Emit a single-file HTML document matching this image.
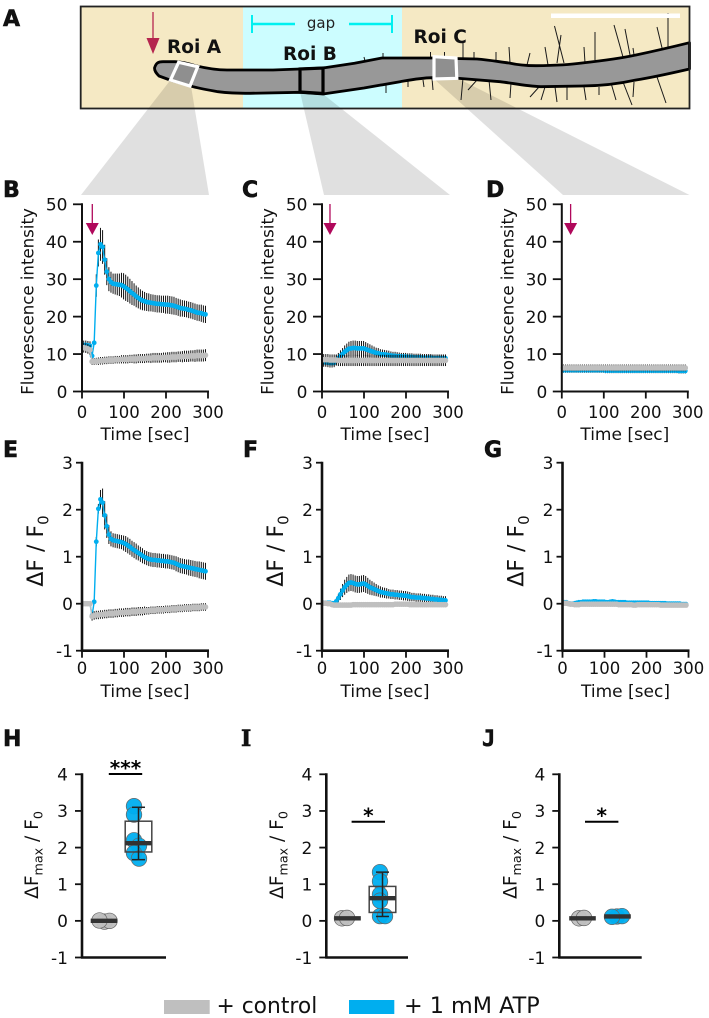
<!DOCTYPE html>
<html>
<head>
<meta charset="utf-8">
<title>Fluorescence response figure</title>
<style>
html,body{margin:0;padding:0;background:#fff;}
svg{display:block;font-family:"DejaVu Sans","Liberation Sans",sans-serif;}
</style>
</head>
<body>
<svg id="figure" xmlns="http://www.w3.org/2000/svg" width="709" height="1018" viewBox="0 0 709 1018">
  <g>
    <rect x="81" y="7" width="162" height="101" fill="#f5e9c4"/>
    <rect x="243" y="7" width="159" height="101" fill="#ccfdff"/>
    <rect x="402" y="7" width="287" height="101" fill="#f5e9c4"/>
    <polygon points="170.5,80 191,86 209,195 81,195" fill="#000" fill-opacity="0.12"/>
    <polygon points="300,92 323,94 450,195 324,195" fill="#000" fill-opacity="0.12"/>
    <polygon points="434,79 457,78 689.5,195 563,195" fill="#000" fill-opacity="0.12"/>
    <g stroke="#1a1a1a" stroke-width="1" fill="none">
      <path d="M561 35L557 63M554.5 26L564 63M584 47L585 63M595 32L595 60M614 25L623 57M625 29L630 55M633 48L634 55M657 27L663 52M668 13L668 47M463 43L463 58M474 52L474 58M496 52L496 62M509 47L510 63M530 53L527 65M545 47L548 65M430.5 52L430.5 58M444.5 52L444.5 57M383 53L383 58M364 57L365 61"/>
      <path d="M461 100L463 78M468 90L477 80M489 80L491 100M511 83L510 98M530 97L539 87M541 100L545 87M555 87L557 102M567 87L567 100M584 87L586 100M599 87L599 95M611 83L616 100M623 82L632 105M634 82L633 97M657 77L666 103M408 80L408 87M423 80L424 87M432 78L433 90M386 85L386 93"/>
    </g>
    <path d="M154.5 68C156 63 158 61.7 163 61.7L175 61.7C183 62 190 64 195.5 65.7C205 68 215 70 227 70L273 70L300 69L323 68L354.5 63.3L382 58L432 58L477 59C490 60 500 62 509 63C518 65 527 65.7 536 65.7C552 65.5 568 65 582 63C600 61 618 59 636 55C655 51 672 47 689.5 42.7L689.5 69C672 73 655 77 636 80C618 84 600 86 582 86L541 86.7C525 86 512 83 500 81.7L454.5 78L432 77.7C420 78 410 80 400 81.7L364 88L323 94L300 92.3L250 93.3C238 93.3 228 93 218 91.7C208 90 200 88.5 193 86.7L170 80L159 76C156 73 154.5 71 154.5 68Z" fill="#989898" stroke="#000" stroke-width="2.8" stroke-linejoin="round"/>
    <polygon points="178.6,62.3 197.7,66.7 190,86 170.5,80" fill="#8f8f8f" stroke="#fff" stroke-width="3.2"/>
    <polygon points="300,69 323,68 323,93.5 300,92" fill="#989898" stroke="#000" stroke-width="3.2"/>
    <polygon points="434,56.7 456,58 456.8,78.3 434,79" fill="#8f8f8f" stroke="#fff" stroke-width="3.2"/>
    <rect x="551" y="13.5" width="129" height="4.5" fill="#fff"/>
    <g stroke="#00f0f0" stroke-width="2" fill="none">
      <path d="M252 24L295 24M349 24L392 24" stroke-width="2.6"/>
      <path d="M252 15L252 33M392 15L392 33"/>
    </g>
    <text x="321" y="28" font-size="15" text-anchor="middle" fill="#222">gap</text>
    <path d="M153 12L153 40" stroke="#b5264f" stroke-width="1.3" fill="none"/>
    <polygon points="146.5,38 159.5,38 153,54" fill="#b5264f"/>
    <text x="167" y="53" font-size="18.5" font-weight="bold" fill="#111">Roi A</text>
    <text x="283" y="60" font-size="18.5" font-weight="bold" fill="#111">Roi B</text>
    <text x="413.5" y="43" font-size="18.5" font-weight="bold" fill="#111">Roi C</text>
    <rect x="80.7" y="6.5" width="608.8" height="102" fill="none" stroke="#222" stroke-width="1.8"/>
  </g>
  <g font-size="22" font-weight="bold" fill="#111" stroke="#111" stroke-width="0.6">
    <text x="3" y="26">A</text>
    <text x="3" y="197">B</text>
    <text x="242" y="197">C</text>
    <text x="486" y="197">D</text>
    <text x="3" y="457">E</text>
    <text x="243" y="457">F</text>
    <text x="484" y="457">G</text>
    <text x="3" y="746">H</text>
    <text x="241" y="746" font-family="'DejaVu Serif','Liberation Serif',serif">I</text>
    <text x="482" y="746" font-family="'DejaVu Sans Mono','Liberation Mono',monospace">J</text>
  </g>
  <g>
    <rect x="164" y="1000" width="45.7" height="14" fill="#bfbfbf"/>
    <text x="216.5" y="1013" font-size="21.8" fill="#111">+ control</text>
    <rect x="349" y="1000" width="45.3" height="14" fill="#00aeef"/>
    <text x="404" y="1013" font-size="22.3" fill="#111">+ 1 mM ATP</text>
  </g>
  <g id="charts"></g>
</svg>
<script>
// ---------- time-course data ----------
const timePoints = [4,9,14,19,24,29,34,39,44,49,54,59,64,69,74,79,84,89,94,99,104,109,114,119,124,129,134,139,144,149,154,159,164,169,174,179,184,189,194,199,204,209,214,219,224,229,234,239,244,249,254,259,264,269,274,279,284,289,294];

const atpMeanB = [12.4,12.4,12.3,12.2,9.5,13,28.3,37,39.3,38.6,35.2,32,30,29.2,28.8,28.7,28.6,28.5,28.4,28.1,27.7,27.3,26.8,26.3,25.9,25.4,25,24.6,24.3,24.1,23.9,23.8,23.7,23.6,23.5,23.4,23.4,23.3,23.3,23.2,23.2,23.1,23,22.9,22.7,22.5,22.3,22.2,22.1,22,21.8,21.7,21.5,21.3,21.1,21,20.9,20.7,20.6];
const atpErrB = [1.2,1.2,1.2,1.2,0.8,0.5,3,3.6,4.4,4.5,4,3.6,3.2,2.8,2.7,2.8,2.9,3,3.3,3.5,3.5,3.4,3.3,3.2,3,2.9,2.8,2.7,2.6,2.5,2.4,2.4,2.3,2.3,2.3,2.3,2.3,2.3,2.3,2.4,2.4,2.4,2.4,2.4,2.3,2.3,2.3,2.2,2.2,2.2,2.2,2.2,2.2,2.2,2.2,2.2,2.3,2.3,2.3];
const ctrlMeanB = [11.7,11.6,11.4,11.1,8,8,8.1,8.1,8.2,8.2,8.3,8.3,8.4,8.4,8.4,8.5,8.5,8.5,8.6,8.6,8.6,8.6,8.7,8.7,8.7,8.7,8.8,8.8,8.8,8.8,8.9,8.9,8.9,9,9,9,9,9,9.1,9.1,9.1,9.1,9.2,9.2,9.2,9.3,9.3,9.3,9.4,9.4,9.4,9.5,9.5,9.5,9.6,9.6,9.6,9.6,9.7];
const ctrlErrB = [1.3,1.3,1.3,1.3,0.9,0.9,0.9,1,1,1,1,1,1,1,1,1,1,1,1.1,1.1,1.1,1.1,1.1,1.1,1.2,1.2,1.2,1.2,1.2,1.2,1.2,1.2,1.3,1.3,1.3,1.3,1.3,1.3,1.3,1.3,1.4,1.4,1.4,1.4,1.4,1.4,1.4,1.5,1.5,1.5,1.5,1.5,1.5,1.6,1.6,1.6,1.6,1.6,1.6];

const atpMeanC = [7.8,7.8,7.7,7.6,7.6,7.7,8.4,8.9,9.5,10,10.6,11,11.4,11.5,11.6,11.6,11.5,11.5,11.5,11.5,11.3,11.1,10.9,10.7,10.5,10.3,10.2,10,9.9,9.9,9.8,9.7,9.6,9.5,9.5,9.4,9.4,9.3,9.3,9.3,9.2,9.2,9.2,9.1,9.1,9.1,9.1,9,9,9,9,9,8.9,8.9,8.9,8.9,8.9,8.9,8.9];
const atpErrC = [1.2,1.2,1.2,1.2,1.2,1.2,1.3,1.4,1.5,1.6,1.7,1.8,1.9,2,2,2,2,2,2,2,1.9,1.8,1.7,1.6,1.5,1.4,1.4,1.3,1.3,1.2,1.2,1.2,1.1,1.1,1.1,1.1,1,1,1,1,1,1,1,1,1,1,1,1,1,1,1,1,1,1,1,1,1,1,1];
const ctrlMeanC = [8.5,8.5,8.5,8.4,8.4,8.4,8.4,8.3,8.3,8.3,8.3,8.3,8.3,8.3,8.3,8.3,8.3,8.3,8.3,8.3,8.3,8.3,8.3,8.3,8.3,8.3,8.3,8.3,8.3,8.3,8.3,8.3,8.3,8.3,8.3,8.3,8.3,8.3,8.3,8.3,8.3,8.3,8.3,8.3,8.3,8.3,8.3,8.3,8.3,8.3,8.3,8.3,8.3,8.3,8.3,8.3,8.3,8.3,8.3];
const ctrlErrC = [1.5,1.5,1.5,1.5,1.5,1.5,1.5,1.5,1.5,1.5,1.5,1.5,1.5,1.5,1.5,1.5,1.5,1.5,1.5,1.5,1.5,1.5,1.5,1.5,1.5,1.5,1.5,1.5,1.5,1.5,1.5,1.5,1.5,1.5,1.5,1.5,1.5,1.5,1.5,1.5,1.5,1.5,1.5,1.5,1.5,1.5,1.5,1.5,1.5,1.5,1.5,1.5,1.5,1.5,1.5,1.5,1.5,1.5,1.5];

const atpMeanD = [5.7,5.7,5.7,5.7,5.7,5.7,5.7,5.7,5.7,5.7,5.7,5.7,5.7,5.7,5.7,5.7,5.7,5.7,5.7,5.7,5.6,5.6,5.6,5.6,5.6,5.6,5.6,5.6,5.6,5.6,5.6,5.6,5.6,5.6,5.6,5.6,5.6,5.6,5.6,5.6,5.6,5.6,5.6,5.6,5.6,5.6,5.6,5.6,5.6,5.6,5.6,5.6,5.6,5.6,5.6,5.5,5.5,5.5,5.5];
const atpErrD = [0.7,0.7,0.7,0.7,0.7,0.7,0.7,0.7,0.7,0.7,0.7,0.7,0.7,0.7,0.7,0.7,0.7,0.7,0.7,0.7,0.7,0.7,0.7,0.7,0.7,0.7,0.7,0.7,0.7,0.7,0.7,0.7,0.7,0.7,0.7,0.7,0.7,0.7,0.7,0.7,0.7,0.7,0.7,0.7,0.7,0.7,0.7,0.7,0.7,0.7,0.7,0.7,0.7,0.7,0.7,0.7,0.7,0.7,0.7];
const ctrlMeanD = [6.3,6.3,6.3,6.3,6.3,6.3,6.3,6.3,6.3,6.3,6.3,6.3,6.3,6.3,6.3,6.3,6.3,6.3,6.3,6.3,6.3,6.3,6.3,6.3,6.3,6.3,6.3,6.3,6.3,6.3,6.3,6.3,6.3,6.3,6.3,6.3,6.3,6.3,6.3,6.3,6.3,6.3,6.3,6.3,6.3,6.3,6.3,6.3,6.3,6.3,6.3,6.3,6.3,6.3,6.3,6.3,6.3,6.3,6.3];
const ctrlErrD = [0.9,0.9,0.9,0.9,0.9,0.9,0.9,0.9,0.9,0.9,0.9,0.9,0.9,0.9,0.9,0.9,0.9,0.9,0.9,0.9,0.9,0.9,0.9,0.9,0.9,0.9,0.9,0.9,0.9,0.9,0.9,0.9,0.9,0.9,0.9,0.9,0.9,0.9,0.9,0.9,0.9,0.9,0.9,0.9,0.9,0.9,0.9,0.9,0.9,0.9,0.9,0.9,0.9,0.9,0.9,0.9,0.9,0.9,0.9];

const atpMeanE = [0,0,0,0,-0.25,0.04,1.32,2.02,2.22,2.15,1.88,1.65,1.47,1.38,1.35,1.34,1.33,1.32,1.31,1.29,1.27,1.24,1.21,1.17,1.14,1.11,1.08,1.05,1.02,0.99,0.97,0.95,0.94,0.93,0.93,0.92,0.92,0.91,0.91,0.9,0.9,0.89,0.88,0.87,0.85,0.83,0.81,0.8,0.79,0.78,0.77,0.76,0.75,0.74,0.73,0.72,0.71,0.7,0.69];
const atpErrE = [0.03,0.03,0.03,0.03,0.03,0.05,0.1,0.1,0.2,0.3,0.3,0.25,0.2,0.16,0.15,0.15,0.15,0.15,0.15,0.16,0.17,0.17,0.17,0.17,0.17,0.17,0.16,0.16,0.16,0.15,0.15,0.15,0.15,0.15,0.15,0.15,0.15,0.15,0.15,0.15,0.15,0.15,0.15,0.15,0.16,0.16,0.16,0.16,0.16,0.16,0.17,0.17,0.17,0.17,0.17,0.18,0.18,0.18,0.18];
const ctrlMeanE = [0,0,0,0,-0.27,-0.25,-0.24,-0.24,-0.23,-0.23,-0.22,-0.22,-0.21,-0.21,-0.21,-0.2,-0.2,-0.19,-0.19,-0.19,-0.18,-0.18,-0.18,-0.17,-0.17,-0.17,-0.16,-0.16,-0.16,-0.15,-0.15,-0.15,-0.14,-0.14,-0.14,-0.13,-0.13,-0.13,-0.13,-0.12,-0.12,-0.12,-0.11,-0.11,-0.11,-0.1,-0.1,-0.1,-0.09,-0.09,-0.09,-0.09,-0.08,-0.08,-0.08,-0.08,-0.07,-0.07,-0.07];
const ctrlErrE = [0.02,0.02,0.02,0.02,0.09,0.09,0.09,0.09,0.09,0.09,0.09,0.09,0.09,0.09,0.09,0.09,0.09,0.09,0.09,0.09,0.09,0.09,0.09,0.09,0.09,0.09,0.09,0.09,0.09,0.09,0.08,0.08,0.08,0.08,0.08,0.08,0.08,0.08,0.08,0.08,0.08,0.08,0.08,0.08,0.08,0.08,0.08,0.08,0.08,0.08,0.08,0.08,0.08,0.08,0.08,0.08,0.08,0.08,0.08];

const atpMeanF = [0.02,0.02,0.02,0.02,0.01,0.01,0.05,0.12,0.2,0.28,0.35,0.4,0.44,0.45,0.44,0.42,0.41,0.41,0.42,0.43,0.41,0.38,0.35,0.33,0.31,0.29,0.27,0.25,0.24,0.23,0.22,0.21,0.2,0.2,0.19,0.19,0.18,0.18,0.17,0.17,0.16,0.15,0.14,0.14,0.13,0.13,0.13,0.12,0.12,0.11,0.11,0.1,0.1,0.09,0.09,0.08,0.08,0.07,0.07];
const atpErrF = [0.02,0.02,0.02,0.02,0.02,0.03,0.06,0.09,0.12,0.14,0.16,0.17,0.18,0.18,0.18,0.18,0.18,0.18,0.18,0.18,0.18,0.17,0.16,0.15,0.14,0.13,0.12,0.12,0.11,0.11,0.11,0.1,0.1,0.1,0.1,0.1,0.1,0.1,0.1,0.1,0.1,0.1,0.09,0.09,0.09,0.09,0.09,0.09,0.09,0.09,0.09,0.09,0.09,0.09,0.09,0.09,0.09,0.09,0.09];
const ctrlMeanF = [0.01,0.01,0,0,-0.02,-0.03,-0.03,-0.03,-0.03,-0.03,-0.03,-0.03,-0.03,-0.03,-0.02,-0.02,-0.02,-0.02,-0.02,-0.02,-0.02,-0.02,-0.02,-0.02,-0.02,-0.02,-0.02,-0.02,-0.02,-0.02,-0.02,-0.02,-0.02,-0.02,-0.01,-0.01,-0.01,-0.01,-0.01,-0.01,-0.01,-0.02,-0.02,-0.02,-0.02,-0.02,-0.02,-0.02,-0.02,-0.02,-0.02,-0.02,-0.02,-0.02,-0.02,-0.02,-0.02,-0.02,-0.02];
const ctrlErrF = [0.02,0.02,0.02,0.02,0.02,0.02,0.02,0.02,0.02,0.02,0.02,0.02,0.02,0.02,0.02,0.02,0.02,0.02,0.02,0.02,0.02,0.02,0.02,0.02,0.02,0.02,0.02,0.02,0.02,0.02,0.02,0.02,0.02,0.02,0.02,0.02,0.02,0.02,0.02,0.02,0.02,0.02,0.02,0.02,0.02,0.02,0.02,0.02,0.02,0.02,0.02,0.02,0.02,0.02,0.02,0.02,0.02,0.02,0.02];

const atpMeanG = [0.03,0.03,0.01,0,0,0.01,0.02,0.03,0.03,0.04,0.04,0.04,0.04,0.04,0.05,0.05,0.04,0.04,0.04,0.04,0.03,0.03,0.04,0.05,0.04,0.03,0.03,0.03,0.03,0.03,0.02,0.02,0.02,0.02,0.02,0.02,0.02,0.02,0.02,0.02,0.02,0.01,0.01,0.01,0.01,0.01,0.01,0.01,0.01,0,0,0,0,0,0,0,-0.01,-0.01,-0.01];
const atpErrG = [0.01,0.01,0.01,0.01,0.01,0.01,0.01,0.01,0.01,0.01,0.01,0.01,0.01,0.01,0.01,0.01,0.01,0.01,0.01,0.01,0.01,0.01,0.01,0.01,0.01,0.01,0.01,0.01,0.01,0.01,0.01,0.01,0.01,0.01,0.01,0.01,0.01,0.01,0.01,0.01,0.01,0.01,0.01,0.01,0.01,0.01,0.01,0.01,0.01,0.01,0.01,0.01,0.01,0.01,0.01,0.01,0.01,0.01,0.01];
const ctrlMeanG = [0.01,0.01,0,-0.01,-0.01,-0.02,-0.02,-0.02,-0.01,-0.01,-0.01,-0.01,-0.01,-0.01,-0.01,-0.01,-0.01,-0.01,-0.01,-0.01,-0.01,-0.01,-0.01,-0.01,-0.01,-0.01,-0.02,-0.02,-0.02,-0.02,-0.02,-0.02,-0.02,-0.03,-0.03,-0.02,-0.02,-0.02,-0.02,-0.02,-0.02,-0.02,-0.02,-0.02,-0.02,-0.02,-0.03,-0.03,-0.03,-0.03,-0.03,-0.03,-0.03,-0.03,-0.03,-0.03,-0.03,-0.03,-0.03];
const ctrlErrG = [0.01,0.01,0.01,0.01,0.01,0.01,0.01,0.01,0.01,0.01,0.01,0.01,0.01,0.01,0.01,0.01,0.01,0.01,0.01,0.01,0.01,0.01,0.01,0.01,0.01,0.01,0.01,0.01,0.01,0.01,0.01,0.01,0.01,0.01,0.01,0.01,0.01,0.01,0.01,0.01,0.01,0.01,0.01,0.01,0.01,0.01,0.01,0.01,0.01,0.01,0.01,0.01,0.01,0.01,0.01,0.01,0.01,0.01,0.01];

const timeTicks = [0,100,200,300];
const intensityTicks = [0,10,20,30,40,50];
const deltaTicks = [-1,0,1,2,3];
const maxTicks = [-1,0,1,2,3,4];

// ---------- box-plot data ----------
const ctrlPointsH = [-0.02,0,0.01];
const atpPointsH = [3.13,2.9,2.2,2.05,1.85,1.7];
const ctrlPointsI = [0.07,0.08];
const atpPointsI = [1.33,1.08,0.72,0.55,0.13,0.13];
const ctrlPointsJ = [0.07,0.08];
const atpPointsJ = [0.12,0.13,0.11];
// each stat array: [low whisker, Q1, median, Q3, high whisker]
const atpStatsH = [1.67,1.88,2.12,2.72,3.1];
const atpStatsI = [0.12,0.23,0.62,0.94,1.33];
const ctrlMedians = [0,0.07,0.07];
const atpMedianJ = [0.12];

// ---------- drawing ----------
const NS = 'http://www.w3.org/2000/svg';
const root = document.getElementById('charts');
const BLUE = '#00aeef', GREY = '#bfbfbf', INK = '#111';

function make(tag, parent) {
  const el = document.createElementNS(NS, tag);
  parent.appendChild(el);
  return el;
}
function attrs(el, a) {
  for (const k in a) el.setAttribute(k, a[k]);
  return el;
}
function scale(d0, d1, r0, r1) {
  return function (v) { return r0 + (v - d0) * (r1 - r0) / (d1 - d0); };
}

function drawYAxis(g, y, ticks, axisX, tickLeft, labelRight, top, bottom, width, fs) {
  const line = attrs(make('line', g), {x1: axisX, x2: axisX, y1: top - 1, y2: bottom + 1, stroke: INK, 'stroke-width': width});
  
  
  ticks.forEach(function (t) {
    const tick = attrs(make('line', g), {x1: tickLeft, x2: axisX, y1: y(t), y2: y(t), stroke: INK, 'stroke-width': 1.8});
    
    
    const label = attrs(make('text', g), {x: labelRight, y: y(t) + 6.3, 'text-anchor': 'end', 'font-size': fs, fill: INK});
    
    
    label.textContent = String(t);
  });
}

function drawYTitle(g, x, y, html, fs) {
  const t = attrs(make('text', g), {transform: 'translate(' + x + ',' + y + ') rotate(-90)', 'text-anchor': 'middle', 'font-size': fs, fill: INK});
  
  
  html.forEach(function (part) {
    const s = make('tspan', t);
    
    
    if (part.sub) { s.setAttribute('font-size', fs * 0.68); s.setAttribute('dy', fs * 0.25); }
    if (part.back) { s.setAttribute('dy', -fs * 0.25); }
    s.textContent = part.text;
  });
}

function drawSeries(g, x, y, means, errs, color, label, showBars, r) {
  const group = make('g', g);
  
  
  if (showBars) {
    means.forEach(function (m, i) {
      const bar = attrs(make('line', group), {x1: x(timePoints[i]), x2: x(timePoints[i]), y1: y(m - errs[i]), y2: y(m + errs[i]), stroke: '#111', 'stroke-width': 1});
      
      
    });
  }
  const line = attrs(make('polyline', group), {
    points: means.map(function (m, i) { return x(timePoints[i]) + ',' + y(m); }).join(' '),
    fill: 'none', stroke: color, 'stroke-width': 1.4
  });
  
  
  means.forEach(function (m, i) {
    const c = attrs(make('circle', group), {cx: x(timePoints[i]), cy: y(m), r: r, fill: color});
    
    
  });
}

function drawTimePanel(cfg) {
  const g = make('g', root);
  
  
  const x = scale(0, 300, cfg.left, cfg.left + 126);
  const y = scale(cfg.dom[0], cfg.dom[1], cfg.bottom, cfg.top);
  drawSeries(g, x, y, cfg.atp, cfg.atpErr, BLUE, 'atp', true, 2.4);
  drawSeries(g, x, y, cfg.ctrl, cfg.ctrlErr, GREY, 'control', true, 2.8);
  drawYAxis(g, y, cfg.ticks, cfg.left, cfg.tickLeft, cfg.labelRight, cfg.top, cfg.bottom, cfg.axisW, cfg.fs);
  const xLine = attrs(make('line', g), {x1: cfg.left - 1, x2: x(300) + 1, y1: cfg.bottom, y2: cfg.bottom, stroke: INK, 'stroke-width': cfg.axisW});
  
  
  timeTicks.forEach(function (t) {
    const tick = attrs(make('line', g), {x1: x(t), x2: x(t), y1: cfg.bottom, y2: cfg.bottom + 7, stroke: INK, 'stroke-width': 1.8});
    
    
    const label = attrs(make('text', g), {x: x(t), y: cfg.tickBase, 'text-anchor': 'middle', 'font-size': 16.5, fill: INK});
    
    
    label.textContent = String(t);
  });
  const title = attrs(make('text', g), {x: cfg.left + 63, y: cfg.titleBase, 'text-anchor': 'middle', 'font-size': 17, fill: INK});
  
  
  title.textContent = 'Time [sec]';
  if (cfg.arrowT !== undefined) {
    const ax = x(cfg.arrowT);
    const shaft = attrs(make('line', g), {x1: ax, x2: ax, y1: 204, y2: 225, stroke: '#b0085b', 'stroke-width': 1.3});
    
    
    const head = attrs(make('polygon', g), {points: (ax - 6.5) + ',223 ' + (ax + 6.5) + ',223 ' + ax + ',235', fill: '#b0085b'});
    
    
  }
  drawYTitle(g, cfg.yTitleX, cfg.yTitleY, cfg.yTitle, cfg.yTitleSize);
}

const intensityTitle = [{text: 'Fluorescence intensity'}];
const deltaTitle = [{text: 'ΔF / F'}, {text: '0', sub: true}];

function intensityPanel(name, left, atp, atpErr, ctrl, ctrlErr, arrowT) {
  drawTimePanel({name: name, left: left, top: 204.3, bottom: 391.5, dom: [0, 50], ticks: intensityTicks,
    tickLeft: left - 9, labelRight: left - 14.5, axisW: 2, fs: 17, tickBase: 418, titleBase: 440,
    atp: atp, atpErr: atpErr, ctrl: ctrl, ctrlErr: ctrlErr, arrowT: arrowT,
    yTitle: intensityTitle, yTitleX: left - 48.5, yTitleY: 301.5, yTitleSize: 16.6});
}
function deltaPanel(name, left, atp, atpErr, ctrl, ctrlErr) {
  drawTimePanel({name: name, left: left, top: 462.7, bottom: 650.7, dom: [-1, 3], ticks: deltaTicks,
    tickLeft: left - 6, labelRight: left - 9, axisW: 2.6, fs: 17, tickBase: 674, titleBase: 697,
    atp: atp, atpErr: atpErr, ctrl: ctrl, ctrlErr: ctrlErr,
    yTitle: deltaTitle, yTitleX: left - 39, yTitleY: 551, yTitleSize: 22});
}

intensityPanel('panel-b-roi-a-intensity', 82, atpMeanB, atpErrB, ctrlMeanB, ctrlErrB, 24.5);
intensityPanel('panel-c-roi-b-intensity', 322, atpMeanC, atpErrC, ctrlMeanC, ctrlErrC, 19);
intensityPanel('panel-d-roi-c-intensity', 561.8, atpMeanD, atpErrD, ctrlMeanD, ctrlErrD, 21);
deltaPanel('panel-e-roi-a-delta', 82, atpMeanE, atpErrE, ctrlMeanE, ctrlErrE);
deltaPanel('panel-f-roi-b-delta', 322, atpMeanF, atpErrF, ctrlMeanF, ctrlErrF);
deltaPanel('panel-g-roi-c-delta', 562.5, atpMeanG, atpErrG, ctrlMeanG, ctrlErrG);

function drawSwarm(g, y, values, cx, color, label) {
  const placed = [];
  values.forEach(function (v) {
    const py = y(v);
    let off = 0;
    const steps = [0, 5, -5, 10, -10];
    for (let s = 0; s < steps.length; s++) {
      const clash = placed.some(function (p) {
        return Math.abs(p.x - steps[s]) < 4 && Math.abs(p.y - py) < 6;
      });
      if (!clash) { off = steps[s]; break; }
    }
    placed.push({x: off, y: py});
    const c = attrs(make('circle', g), {cx: cx + off, cy: py, r: 7.8, fill: color, stroke: '#666', 'stroke-width': 0.7, 'fill-opacity': 0.95});
    
    
  });
}

function drawMedian(g, y, v, cx, label) {
  const m = attrs(make('line', g), {x1: cx - 13.3, x2: cx + 13.3, y1: y(v), y2: y(v), stroke: '#333', 'stroke-width': 4.4});
  
  
}

function drawBox(g, y, stats, cx) {
  const box = attrs(make('rect', g), {x: cx - 13.3, y: y(stats[3]), width: 26.6, height: y(stats[1]) - y(stats[3]), fill: 'none', stroke: '#444', 'stroke-width': 1.5});
  
  
  const whisk = attrs(make('line', g), {x1: cx, x2: cx, y1: y(stats[4]), y2: y(stats[0]), stroke: '#222', 'stroke-width': 1.5});
  
  
  [stats[0], stats[4]].forEach(function (v) {
    const cap = attrs(make('line', g), {x1: cx - 6.5, x2: cx + 6.5, y1: y(v), y2: y(v), stroke: '#222', 'stroke-width': 1.5});
    
    
  });
  drawMedian(g, y, stats[2], cx, 'atp');
}

function drawBoxPanel(cfg) {
  const g = make('g', root);
  
  
  const y = scale(-1, 4, 957.5, 774.3);
  drawSwarm(g, y, cfg.ctrl, cfg.ctrlX, GREY, 'control');
  drawMedian(g, y, cfg.ctrlMedian, cfg.ctrlMedianX, 'control');
  drawSwarm(g, y, cfg.atp, cfg.atpX, BLUE, 'atp');
  if (cfg.stats) drawBox(g, y, cfg.stats, cfg.boxX);
  else drawMedian(g, y, cfg.median, cfg.boxX, 'atp');
  drawYAxis(g, y, maxTicks, cfg.left, cfg.left - 7, cfg.left - 14, 774.3, 957.5, 2.6, 17);
  const xLine = attrs(make('line', g), {x1: cfg.left - 1, x2: cfg.right, y1: 957.5, y2: 957.5, stroke: INK, 'stroke-width': 2.6});
  
  
  const sig = attrs(make('line', g), {x1: cfg.sigX - 16.7, x2: cfg.sigX + 16.7, y1: cfg.sigY, y2: cfg.sigY, stroke: '#000', 'stroke-width': 2});
  
  
  const star = attrs(make('text', g), {x: cfg.sigX, y: cfg.sigY + 1, 'text-anchor': 'middle', 'font-size': 20, 'font-weight': 'bold', fill: '#000'});
  
  
  star.textContent = cfg.stars;
  drawYTitle(g, cfg.titleX, 855, [
    {text: 'ΔF'}, {text: 'max', sub: true}, {text: ' / F', back: true}, {text: '0', sub: true}
  ], 18.6);
}

drawBoxPanel({name: 'panel-h-roi-a-max', left: 82, right: 166, ctrl: ctrlPointsH, ctrlX: 104.5, ctrlMedian: ctrlMedians[0], ctrlMedianX: 104,
  atp: atpPointsH, atpX: 134, stats: atpStatsH, boxX: 138.5, sigX: 125.5, sigY: 774, stars: '***', titleX: 38});
drawBoxPanel({name: 'panel-i-roi-b-max', left: 326.3, right: 408, ctrl: ctrlPointsI, ctrlX: 342, ctrlMedian: ctrlMedians[1], ctrlMedianX: 347.5,
  atp: atpPointsI, atpX: 380, stats: atpStatsI, boxX: 382.5, sigX: 368.3, sigY: 821.7, stars: '*', titleX: 283});
drawBoxPanel({name: 'panel-j-roi-c-max', left: 559.3, right: 641.7, ctrl: ctrlPointsJ, ctrlX: 579, ctrlMedian: ctrlMedians[2], ctrlMedianX: 582.5,
  atp: atpPointsJ, atpX: 617, median: atpMedianJ[0], boxX: 617.5, sigX: 601.7, sigY: 821.7, stars: '*', titleX: 516.5});
</script>
</body>
</html>
